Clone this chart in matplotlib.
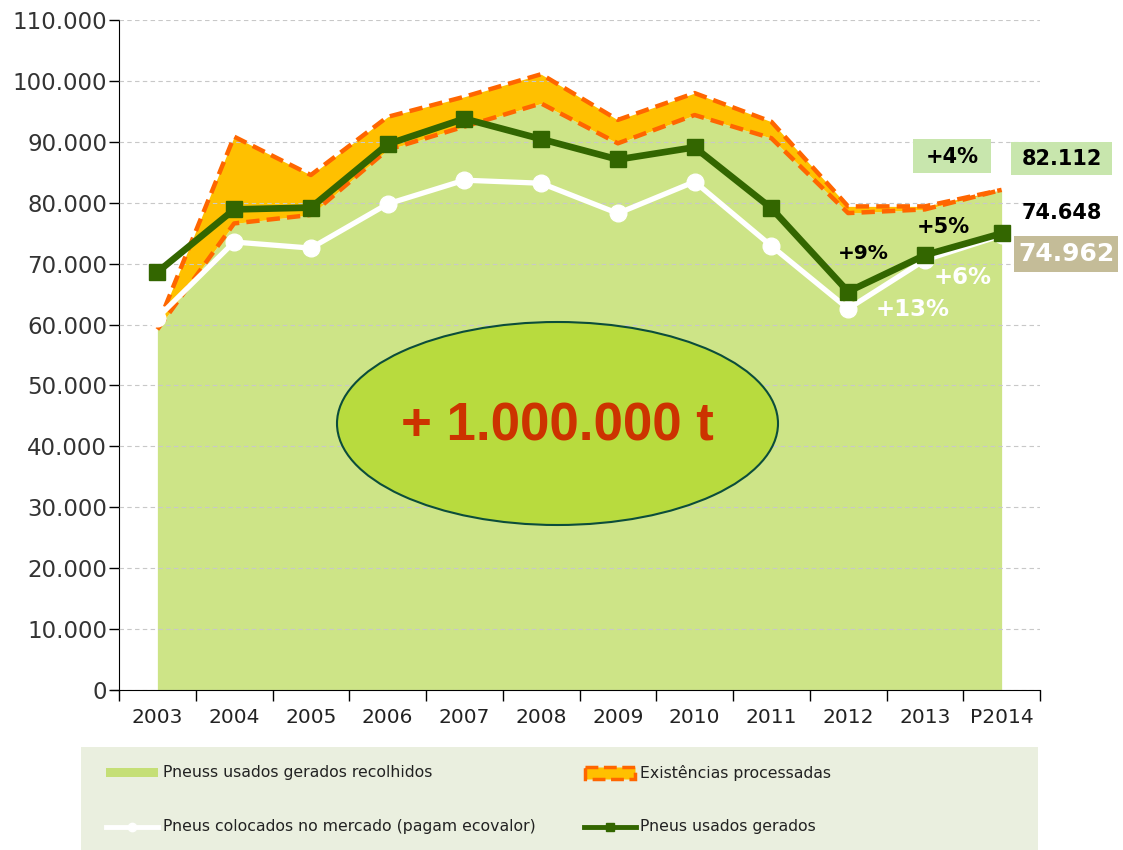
import matplotlib.pyplot as plt
import numpy as np
from matplotlib.patches import Ellipse, Rectangle
from matplotlib.lines import Line2D
from matplotlib.ticker import FuncFormatter

# dados (toneladas)
anos = ['2003', '2004', '2005', '2006', '2007', '2008', '2009', '2010',
        '2011', '2012', '2013', 'P2014']
recolhidos = [59200, 76600, 78000, 88700, 92500, 96300, 89750, 94400,
              90600, 78300, 78900, 82112]
existencias = [600, 14250, 6550, 5400, 4900, 4800, 3850, 3600,
               2700, 1100, 500, 0]
gerados = [68600, 78900, 79200, 89600, 93800, 90450, 87100, 89100,
           79100, 65400, 71400, 74962]
colocados = [61100, 73550, 72550, 79800, 83700, 83200, 78250, 83450,
             72900, 62600, 70600, 74648]

nomes = ['Pneuss usados gerados recolhidos', 'Existências processadas',
         'Pneus colocados no mercado (pagam ecovalor)', 'Pneus usados gerados']

fig = plt.figure(figsize=(11.23, 8.5), dpi=100)
ax = fig.add_axes([119 / 1123, 160 / 850, 921 / 1123, 670 / 850])

x = np.arange(len(anos))
topo = np.array(recolhidos) + np.array(existencias)

ax.fill_between(x, 0, recolhidos, color='#CDE487', lw=0, zorder=1)
ax.fill_between(x, recolhidos, topo, color='#FFC000', lw=0, zorder=2)
ax.plot(x, recolhidos, color='#FF6600', lw=3.2, dashes=(3, 1.6), zorder=3)
ax.plot(x, topo, color='#FF6600', lw=3.2, dashes=(3, 1.6), zorder=3)
ax.plot(x, colocados, color='white', lw=3.8, marker='o', ms=12, zorder=4)
ax.plot(x, gerados, color='#336600', lw=4.8, marker='s', ms=11, zorder=5)

# eixos
ax.set_xlim(-0.5, 11.5)
ax.set_ylim(0, 110000)
ax.set_axisbelow(False)
ax.set_yticks(np.arange(0, 110001, 10000))
ax.yaxis.set_major_formatter(FuncFormatter(lambda v, p: f'{int(v):,}'.replace(',', '.')))
ax.yaxis.grid(True, ls=(0, (4, 3)), color='#C8C8C8', lw=0.8)
ax.tick_params(axis='y', length=7, width=1, pad=1.5, labelsize=16.5, labelcolor='#333333')
ax.set_xticks(x, anos)
ax.set_xticks(np.arange(-0.5, 12, 1), minor=True)
ax.tick_params(axis='x', which='major', length=0, pad=13, labelsize=14.5, labelcolor='#222222')
ax.tick_params(axis='x', which='minor', length=8, width=1)
for s in ['top', 'right']:
    ax.spines[s].set_visible(False)
ax.spines['bottom'].set_bounds(-0.6, 11.5)

# camada em pixels para anotações e legenda
ov = fig.add_axes([0, 0, 1, 1])
ov.set_xlim(0, 1123)
ov.set_ylim(850, 0)
ov.axis('off')

ov.add_patch(Ellipse((557.5, 423.5), 441, 203, fc='#B8DB3E', ec='#0B4D3B', lw=1.5))
ov.text(557, 426, '+ 1.000.000 t', ha='center', va='center', fontsize=38,
        fontweight='bold', color='#CC3300', family='Liberation Sans')

ov.add_patch(Rectangle((913, 139), 78, 34, fc='#C8E6AD', lw=0))
ov.text(952, 157, '+4%', ha='center', va='center', fontsize=15, fontweight='bold')
ov.add_patch(Rectangle((1011, 142), 101, 33, fc='#C8E6AD', lw=0))
ov.text(1062, 159, '82.112', ha='center', va='center', fontsize=15, fontweight='bold')
ov.text(1062, 213, '74.648', ha='center', va='center', fontsize=15, fontweight='bold')
ov.add_patch(Rectangle((1014, 236), 104, 36, fc='#C4BC98', lw=0))
ov.text(1066, 254, '74.962', ha='center', va='center', fontsize=18,
        fontweight='bold', color='white')
ov.text(863, 253, '+9%', ha='center', va='center', fontsize=14.5, fontweight='bold')
ov.text(943, 227, '+5%', ha='center', va='center', fontsize=15, fontweight='bold')
ov.text(963, 277, '+6%', ha='center', va='center', fontsize=16.5, fontweight='bold', color='white')
ov.text(913, 310, '+13%', ha='center', va='center', fontsize=16.5, fontweight='bold', color='white')

# legenda
ov.add_patch(Rectangle((81, 747), 957, 103, fc='#EAEFDF', lw=0))
ov.add_patch(Rectangle((106, 768), 52, 9, fc='#C5DF76', lw=0))
ov.add_patch(Rectangle((585, 767), 50, 12, fc='#FFC000', ec='#FF6600', lw=2.5, ls='--'))
ov.add_line(Line2D([106, 158], [827, 827], color='white', lw=3.5))
ov.plot([132], [827], marker='o', color='white', ms=6)
ov.add_line(Line2D([584, 636], [827, 827], color='#336600', lw=3.5))
ov.plot([610], [827], marker='s', color='#336600', ms=6)
for (tx, ty), nome in zip([(163, 773), (640, 773), (163, 827), (640, 827)], nomes):
    ov.text(tx, ty, nome, ha='left', va='center', fontsize=11.3, color='#222222')

fig.savefig('out.png', dpi=100)
